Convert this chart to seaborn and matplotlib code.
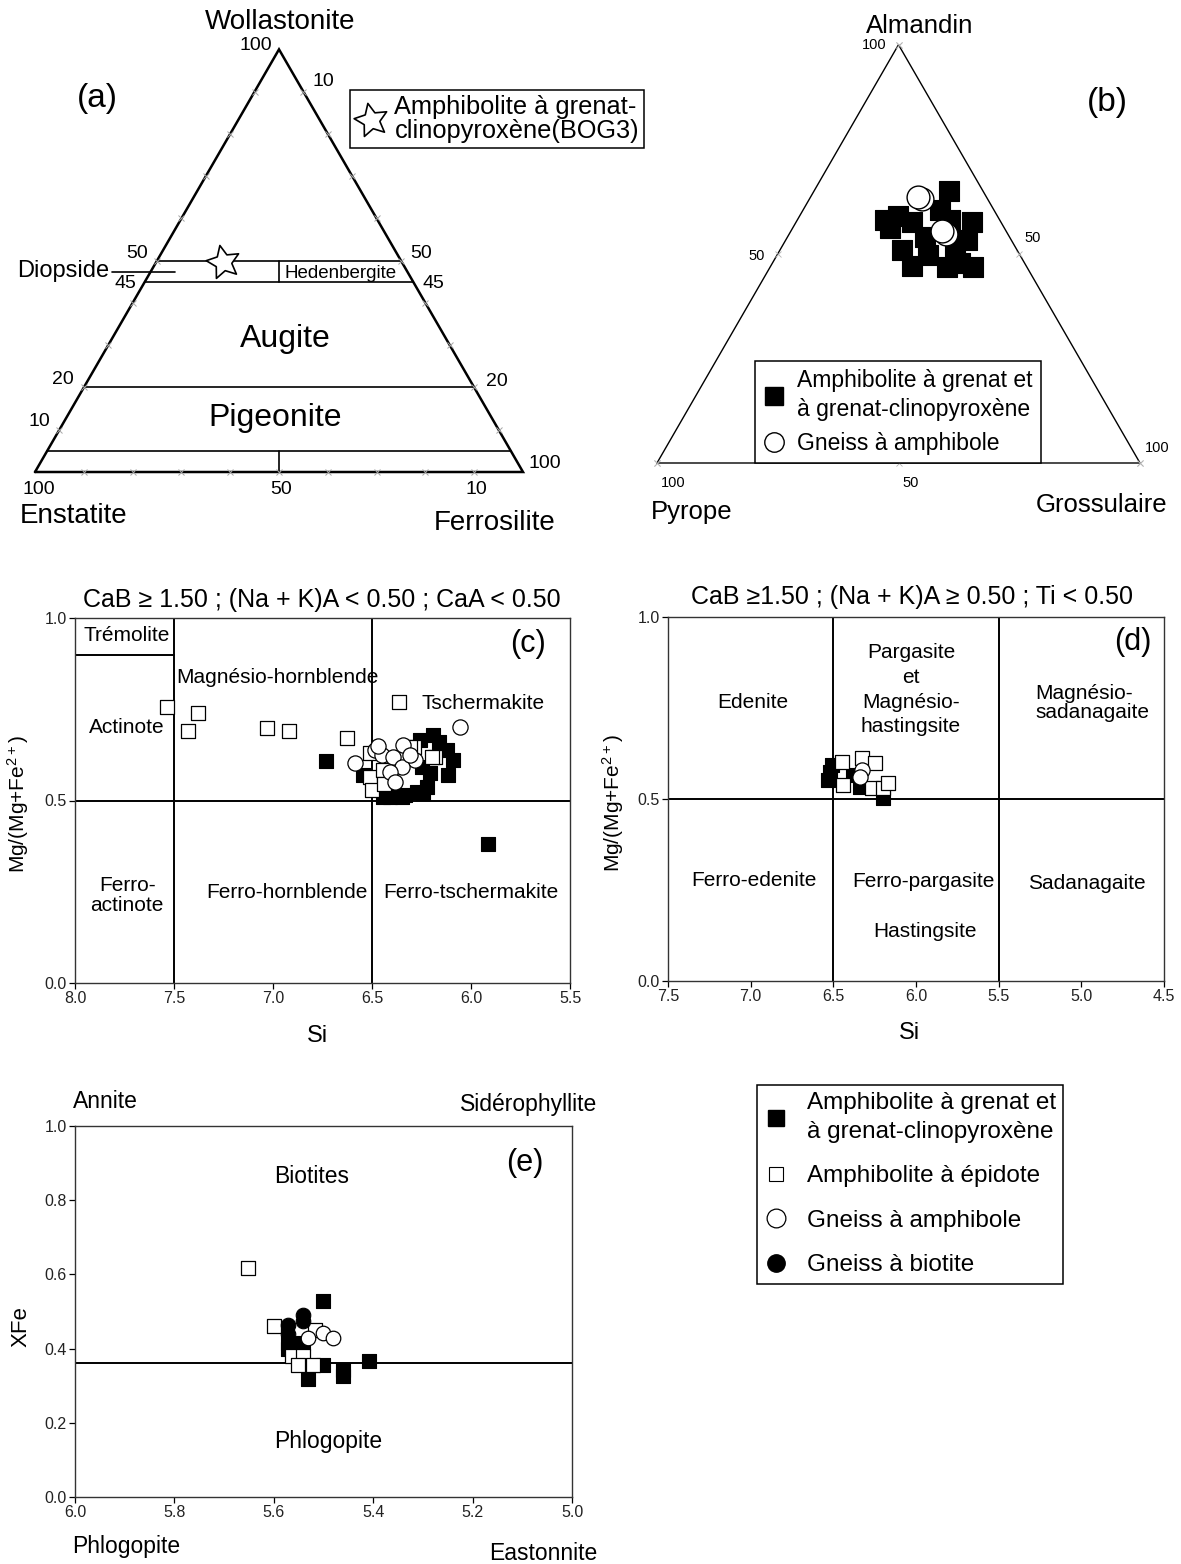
import numpy as np
import pandas as pd
import matplotlib
matplotlib.use("Agg")
import matplotlib.pyplot as plt
import seaborn as sns
from matplotlib.lines import Line2D
from matplotlib.path import Path
from matplotlib.markers import MarkerStyle
from matplotlib.ticker import FormatStrFormatter

# ---------------- data ----------------
# (a) clinopyroxene (Wo, En, Fs %)
PX_WO = [49.8]
PX_EN = [36.6]
PX_FS = [13.6]

# (b) garnet end-members (%)
GT_AMPH_ALM = [65.1, 58.1, 59.1, 57.7, 56.2, 51.0, 47.1, 49.8, 60.5, 57.7, 53.3, 47.8, 46.9, 46.9, 54.1, 58.1, 51.7]
GT_AMPH_GRO = [27.9, 18.2, 20.4, 23.9, 20.1, 25.2, 29.3, 31.2, 28.4, 36.4, 37.6, 38.8, 42.0, 36.6, 28.5, 31.6, 35.9]
GT_AMPH_PYR = [7.0, 23.7, 20.5, 18.4, 23.7, 23.8, 23.6, 19.0, 11.1, 5.9, 9.1, 13.4, 11.1, 16.5, 17.4, 10.3, 12.4]
GT_GNA_ALM = [63.2, 63.6, 54.8, 55.5]
GT_GNA_GRO = [23.3, 22.2, 32.4, 31.3]
GT_GNA_PYR = [13.5, 14.2, 12.8, 13.2]

# (c) calcic amphiboles, (Na+K)A < 0.5
C_EPI_SI = [7.533, 7.431, 7.378, 7.028, 6.918, 6.628, 6.366, 6.512, 6.512, 6.502, 6.444, 6.289, 6.182, 6.31, 6.197, 6.44]
C_EPI_MG = [0.757, 0.690, 0.739, 0.700, 0.690, 0.670, 0.769, 0.629, 0.565, 0.529, 0.584, 0.647, 0.620, 0.647, 0.619, 0.545]
C_GRT_SI = [5.913, 6.730, 6.545, 6.444, 6.333, 6.273, 6.222, 6.207, 6.247, 6.192, 6.121, 6.091, 6.116, 6.258, 6.409, 6.242, 6.35, 6.16]
C_GRT_MG = [0.381, 0.608, 0.570, 0.510, 0.515, 0.523, 0.537, 0.575, 0.592, 0.679, 0.638, 0.611, 0.570, 0.666, 0.510, 0.521, 0.51, 0.66]
C_GNA_SI = [6.056, 6.586, 6.485, 6.449, 6.394, 6.343, 6.283, 6.348, 6.409, 6.384, 6.47, 6.31]
C_GNA_MG = [0.701, 0.603, 0.638, 0.625, 0.619, 0.652, 0.611, 0.592, 0.578, 0.551, 0.65, 0.625]

# (d) calcic amphiboles, (Na+K)A >= 0.5
D_GRT_SI = [6.508, 6.532, 6.381, 6.338, 6.199, 6.52]
D_GRT_MG = [0.593, 0.552, 0.566, 0.533, 0.503, 0.575]
D_EPI_SI = [6.447, 6.326, 6.248, 6.441, 6.266, 6.199, 6.169]
D_EPI_MG = [0.602, 0.613, 0.599, 0.538, 0.530, 0.530, 0.544]
D_GNA_SI = [6.326, 6.338]
D_GNA_MG = [0.580, 0.560]

# (e) biotites
E_GRT_SI = [5.501, 5.571, 5.571, 5.541, 5.501, 5.461, 5.461, 5.531, 5.408]
E_GRT_XFE = [0.527, 0.415, 0.400, 0.415, 0.356, 0.343, 0.325, 0.318, 0.367]
E_EPI_SI = [5.651, 5.600, 5.518, 5.564, 5.541, 5.552, 5.522]
E_EPI_XFE = [0.617, 0.460, 0.451, 0.379, 0.379, 0.356, 0.356]
E_GNA_SI = [5.531, 5.501, 5.480]
E_GNA_XFE = [0.428, 0.442, 0.428]
E_GNB_SI = [5.571, 5.541, 5.541, 5.571]
E_GNB_XFE = [0.464, 0.491, 0.475, 0.440]

LBL_GRT = "Amphibolite à grenat et\nà grenat-clinopyroxène"
LBL_EPI = "Amphibolite à épidote"
LBL_GNA = "Gneiss à amphibole"
LBL_GNB = "Gneiss à biotite"
LBL_BOG = "Amphibolite à grenat-\nclinopyroxène(BOG3)"

# ---------------- style ----------------
sns.set_theme(style="ticks", rc={
    "axes.edgecolor": "black", "text.color": "black", "axes.labelcolor": "black",
    "xtick.color": "black", "ytick.color": "black",
})
plt.rcParams["font.family"] = ["Liberation Sans", "DejaVu Sans"]
plt.rcParams["mathtext.default"] = "regular"

W, H = 1181, 1564
fig = plt.figure(figsize=(W / 100, H / 100), dpi=100)
fig.patch.set_facecolor("white")


def px_axes(x0, y0, x1, y1):
    return fig.add_axes([x0 / W, 1 - y1 / H, (x1 - x0) / W, (y1 - y0) / H])


def ftext(x, y, s, size, ha="center", va="center", **kw):
    fig.text(x / W, 1 - y / H, s, fontsize=size, ha=ha, va=va, **kw)


S3 = np.sqrt(3) / 2


def tern_axes(vx, vy, side, xlim, ylim):
    x0 = vx + xlim[0] * side
    x1 = vx + xlim[1] * side
    yt = vy - ylim[1] * side
    yb = vy - ylim[0] * side
    ax = px_axes(x0, yt, x1, yb)
    ax.set_xlim(*xlim)
    ax.set_ylim(*ylim)
    ax.axis("off")
    return ax


def tern_xy(top, left, right):
    top = np.asarray(top, float)
    left = np.asarray(left, float)
    right = np.asarray(right, float)
    tot = top + left + right
    t = top / tot
    r = right / tot
    return r + t / 2, t * S3


def star_marker(inner=0.48, rot=12):
    ang = np.deg2rad(90 + rot) + np.arange(10) * np.pi / 5
    rad = np.where(np.arange(10) % 2 == 0, 1.0, inner)
    v = np.column_stack([rad * np.cos(ang), rad * np.sin(ang)])
    v = np.vstack([v, v[:1]])
    codes = [Path.MOVETO] + [Path.LINETO] * 9 + [Path.CLOSEPOLY]
    return MarkerStyle(Path(v, codes))


STAR = star_marker()


def make_legend(handles, labels, anchor, loc, fs, linespacing=None, **kw):
    leg = fig.legend(handles, labels, loc=loc,
                     bbox_to_anchor=(anchor[0] / W, 1 - anchor[1] / H),
                     bbox_transform=fig.transFigure, frameon=True, fancybox=False,
                     edgecolor="black", framealpha=1, fontsize=fs, borderaxespad=0, **kw)
    leg.get_frame().set_linewidth(1.1)
    if linespacing is not None:
        for t in leg.get_texts():
            t.set_linespacing(linespacing)
    return leg


# ================= (a) pyroxene ternary =================
ax_a = tern_axes(35, 472, 488, (-0.07, 1.12), (-0.1, 0.92))
ax_a.plot([0, 1, 0.5, 0], [0, 0, S3, 0], color="black", lw=1.8, solid_joinstyle="miter")
for wo in [50, 45, 20, 5]:
    xs, ys = tern_xy([wo, wo], [100 - wo, 0], [0, 100 - wo])
    ax_a.plot(xs, ys, color="black", lw=1.2)
xs, ys = tern_xy([45, 50], [27.5, 25], [27.5, 25])
ax_a.plot(xs, ys, color="black", lw=1.2)
xs, ys = tern_xy([0, 5], [50, 47.5], [50, 47.5])
ax_a.plot(xs, ys, color="black", lw=1.2)
ax_a.plot([(112 - 35) / 488, (175 - 35) / 488], [47.4 / 100 * S3] * 2, color="black", lw=1.2)
# small gray ticks every 10 %
tk = np.arange(10, 100, 10)
for tx, ty in [tern_xy(np.zeros(9), 100 - tk, tk), tern_xy(tk, 100 - tk, np.zeros(9)),
               tern_xy(tk, np.zeros(9), 100 - tk)]:
    ax_a.plot(tx, ty, "x", ms=4.5, color="0.65", mew=0.7)
px_x, px_y = tern_xy(PX_WO, PX_EN, PX_FS)
sns.scatterplot(x=px_x, y=px_y, marker=STAR, s=620, color="white", edgecolor="black",
                linewidth=1.2, ax=ax_a, legend=False, zorder=5)

ftext(280, 22, "Wollastonite", 20)
ftext(256, 45, "100", 14)
ftext(323, 81, "10", 14)
ftext(97, 98, "(a)", 24)
ftext(137, 254, "50", 14)
ftext(125, 283, "45", 14)
ftext(63, 271, "Diopside", 17)
ftext(421, 253, "50", 14)
ftext(433, 283, "45", 14)
ftext(284, 273, "Hedenbergite", 13.5, ha="left")
ftext(285, 339, "Augite", 23)
ftext(275, 418, "Pigeonite", 23)
ftext(63, 380, "20", 14)
ftext(497, 381, "20", 14)
ftext(39, 421, "10", 14)
ftext(545, 464, "100", 14)
ftext(39, 489, "100", 14)
ftext(281, 490, "50", 14)
ftext(476, 490, "10", 14)
ftext(74, 516, "Enstatite", 20)
ftext(495, 523, "Ferrosilite", 20)

h_star = Line2D([], [], marker=STAR, ls="none", ms=25, mfc="white", mec="black", mew=1.2)
make_legend([h_star], [LBL_BOG], (350, 90), "upper left", 18.3, linespacing=1.0,
            borderpad=0.2, handlelength=1.25, handletextpad=0.3)

# ================= (b) garnet ternary =================
ax_b = tern_axes(657, 463, 483, (-0.05, 1.05), (-0.05, 0.9))
ax_b.plot([0, 1, 0.5, 0], [0, 0, S3, 0], color="black", lw=1.0, solid_joinstyle="miter")
tk_b = np.array([0, 50, 100])
for tx, ty in [tern_xy(np.zeros(3), 100 - tk_b, tk_b), tern_xy(tk_b, 100 - tk_b, np.zeros(3)),
               tern_xy(tk_b, np.zeros(3), 100 - tk_b)]:
    ax_b.plot(tx, ty, "x", ms=4, color="0.7", mew=0.6)
gx, gy = tern_xy(GT_AMPH_ALM, GT_AMPH_PYR, GT_AMPH_GRO)
sns.scatterplot(x=gx, y=gy, marker="s", s=200, color="black", edgecolor="black",
                linewidth=0.8, ax=ax_b, legend=False, zorder=3)
gx, gy = tern_xy(GT_GNA_ALM, GT_GNA_PYR, GT_GNA_GRO)
sns.scatterplot(x=gx, y=gy, marker="o", s=270, color="white", edgecolor="black",
                linewidth=1.0, ax=ax_b, legend=False, zorder=4)

ftext(920, 26, "Almandin", 18.5)
ftext(874, 45, "100", 10.5)
ftext(757, 256, "50", 10.5)
ftext(1033, 238, "50", 10.5)
ftext(1157, 448, "100", 10.5)
ftext(673, 483, "100", 10.5)
ftext(911, 483, "50", 10.5)
ftext(692, 512, "Pyrope", 18.5)
ftext(1102, 505, "Grossulaire", 18.5)
ftext(1107, 102, "(b)", 24)

h_sq_b = Line2D([], [], marker="s", ls="none", ms=13.5, mfc="black", mec="black")
h_ci_b = Line2D([], [], marker="o", ls="none", ms=14, mfc="white", mec="black", mew=1.0)
make_legend([h_sq_b, h_ci_b], [LBL_GRT, LBL_GNA], (755, 463), "lower left", 16.5,
            linespacing=1.3, borderpad=0.35, handlelength=1.0, handletextpad=0.5,
            labelspacing=0.5)


# ================= (c), (d), (e) binary plots =================
def style_axes(ax, xlim, ylim, xticks, yticks):
    ax.set_xlim(*xlim)
    ax.set_ylim(*ylim)
    ax.set_xticks(xticks)
    ax.set_yticks(yticks)
    ax.xaxis.set_major_formatter(FormatStrFormatter("%.1f"))
    ax.yaxis.set_major_formatter(FormatStrFormatter("%.1f"))
    ax.tick_params(axis="both", direction="out", length=4, width=0.9, labelsize=11.5,
                   pad=2, labelcolor="#222222")
    for sp in ax.spines.values():
        sp.set_visible(True)
        sp.set_linewidth(1.0)
        sp.set_color("#333333")


def scatter_groups(ax, groups, sq=95, ci=120):
    for xs, ys, kind in groups:
        if kind == "grt":
            sns.scatterplot(x=xs, y=ys, marker="s", s=sq, color="black", edgecolor="black",
                            linewidth=0.8, ax=ax, legend=False, zorder=3)
        elif kind == "epi":
            sns.scatterplot(x=xs, y=ys, marker="s", s=sq, color="white", edgecolor="black",
                            linewidth=0.9, ax=ax, legend=False, zorder=4)
        elif kind == "gna":
            sns.scatterplot(x=xs, y=ys, marker="o", s=ci, color="white", edgecolor="black",
                            linewidth=0.9, ax=ax, legend=False, zorder=5)
        else:
            sns.scatterplot(x=xs, y=ys, marker="o", s=ci, color="black", edgecolor="black",
                            linewidth=0.8, ax=ax, legend=False, zorder=6)


# ---- (c)
ax_c = px_axes(75, 618, 570, 983)
ax_c.axvline(7.5, color="black", lw=1.4, zorder=1)
ax_c.axvline(6.5, color="black", lw=1.4, zorder=1)
ax_c.axhline(0.5, color="black", lw=1.4, zorder=1)
ax_c.plot([8.0, 7.5], [0.9, 0.9], color="black", lw=1.4, zorder=1)
scatter_groups(ax_c, [(C_GRT_SI, C_GRT_MG, "grt"), (C_EPI_SI, C_EPI_MG, "epi"),
                      (C_GNA_SI, C_GNA_MG, "gna")])
style_axes(ax_c, (8.0, 5.5), (0, 1), [8.0, 7.5, 7.0, 6.5, 6.0, 5.5], [0.0, 0.5, 1.0])
ax_c.set_xlabel("Si", fontsize=17)
ax_c.set_ylabel("Mg/(Mg+Fe$^{2+}$)", fontsize=15)
ax_c.xaxis.set_label_coords(0.489, -0.115)
ax_c.yaxis.set_label_coords(-0.088, 0.49)
ax_c.text(0.499, 1.049, "CaB ≥ 1.50 ; (Na + K)A < 0.50 ; CaA < 0.50", transform=ax_c.transAxes,
          ha="center", va="center", fontsize=18)
rc = dict(ha="center", va="center", fontsize=15)
ax_c.text(7.737, 0.953, "Trémolite", **rc)
ax_c.text(7.49, 0.838, "Magnésio-hornblende", ha="left", va="center", fontsize=15)
ax_c.text(7.737, 0.699, "Actinote", **rc)
ax_c.text(5.94, 0.767, "Tschermakite", **rc)
ax_c.text(7.737, 0.239, "Ferro-\nactinote", linespacing=1.05, **rc)
ax_c.text(6.93, 0.247, "Ferro-hornblende", **rc)
ax_c.text(6.0, 0.249, "Ferro-tschermakite", **rc)
ax_c.text(5.71, 0.93, "(c)", ha="center", va="center", fontsize=22)

# ---- (d)
ax_d = px_axes(668, 617, 1164, 981)
ax_d.axvline(6.5, color="black", lw=1.4, zorder=1)
ax_d.axvline(5.5, color="black", lw=1.4, zorder=1)
ax_d.axhline(0.5, color="black", lw=1.4, zorder=1)
scatter_groups(ax_d, [(D_GRT_SI, D_GRT_MG, "grt"), (D_EPI_SI, D_EPI_MG, "epi"),
                      (D_GNA_SI, D_GNA_MG, "gna")])
style_axes(ax_d, (7.5, 4.5), (0, 1), [7.5, 7.0, 6.5, 6.0, 5.5, 5.0, 4.5], [0.0, 0.5, 1.0])
ax_d.set_xlabel("Si", fontsize=17)
ax_d.set_ylabel("Mg/(Mg+Fe$^{2+}$)", fontsize=15)
ax_d.xaxis.set_label_coords(0.486, -0.113)
ax_d.yaxis.set_label_coords(-0.084, 0.49)
ax_d.text(0.492, 1.055, "CaB ≥1.50 ; (Na + K)A ≥ 0.50 ; Ti < 0.50", transform=ax_d.transAxes,
          ha="center", va="center", fontsize=18)
ax_d.text(6.99, 0.764, "Edenite", **rc)
ax_d.text(6.03, 0.800, "Pargasite\net\nMagnésio-\nhastingsite", linespacing=1.38, **rc)
ax_d.text(5.28, 0.763, "Magnésio-\nsadanagaite", ha="left", va="center", fontsize=15,
          linespacing=1.0)
ax_d.text(6.98, 0.277, "Ferro-edenite", **rc)
ax_d.text(5.958, 0.272, "Ferro-pargasite", **rc)
ax_d.text(4.966, 0.269, "Sadanagaite", **rc)
ax_d.text(5.946, 0.135, "Hastingsite", **rc)
ax_d.text(4.69, 0.93, "(d)", ha="center", va="center", fontsize=22)

# ---- (e)
ax_e = px_axes(75, 1126, 572, 1497)
ax_e.axhline(0.361, color="black", lw=1.4, zorder=1)
scatter_groups(ax_e, [(E_GRT_SI, E_GRT_XFE, "grt"), (E_EPI_SI, E_EPI_XFE, "epi"),
                      (E_GNA_SI, E_GNA_XFE, "gna"), (E_GNB_SI, E_GNB_XFE, "gnb")],
               sq=90, ci=110)
style_axes(ax_e, (6.0, 5.0), (0, 1), [6.0, 5.8, 5.6, 5.4, 5.2, 5.0],
           [0.0, 0.2, 0.4, 0.6, 0.8, 1.0])
ax_e.set_xlabel("")
ax_e.set_ylabel("XFe", fontsize=16)
ax_e.yaxis.set_label_coords(-0.088, 0.46)
re = dict(ha="center", va="center", fontsize=16.5)
ax_e.text(5.523, 0.863, "Biotites", **re)
ax_e.text(5.491, 0.150, "Phlogopite", **re)
ax_e.text(5.095, 0.90, "(e)", ha="center", va="center", fontsize=22)
ftext(105, 1102, "Annite", 16.5)
ftext(529, 1105, "Sidérophyllite", 16.5)
ftext(126, 1547, "Phlogopite", 16.5)
ftext(543, 1553, "Eastonnite", 16.5)

# ---- shared legend
h_grt = Line2D([], [], marker="s", ls="none", ms=12, mfc="black", mec="black")
h_epi = Line2D([], [], marker="s", ls="none", ms=10.5, mfc="white", mec="black", mew=0.8)
h_gna = Line2D([], [], marker="o", ls="none", ms=13.5, mfc="white", mec="black", mew=0.9)
h_gnb = Line2D([], [], marker="o", ls="none", ms=12.5, mfc="black", mec="black")
make_legend([h_grt, h_epi, h_gna, h_gnb], [LBL_GRT, LBL_EPI, LBL_GNA, LBL_GNB],
            (757, 1085), "upper left", 17.5, linespacing=1.4, borderpad=0.3,
            handlelength=1.0, handletextpad=0.75, labelspacing=0.92)

fig.savefig("out.png", dpi=100, facecolor="white")
